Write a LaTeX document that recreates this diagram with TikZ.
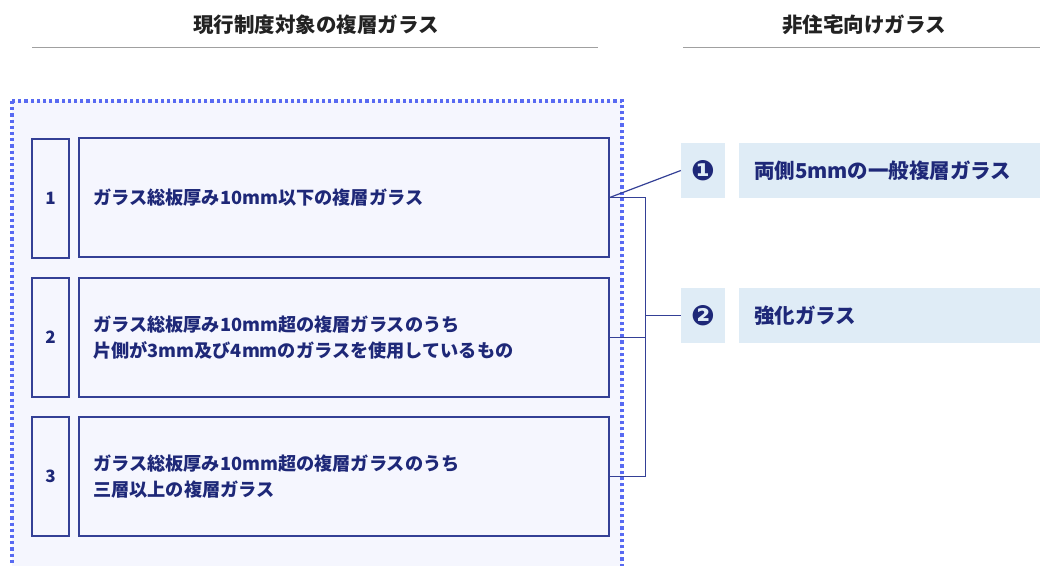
\documentclass[tikz,border=0pt]{standalone}
\usepackage{fontspec}
\newfontfamily\jpfont{Noto Sans CJK JP}
\newfontfamily\dvfont{DejaVu Sans}
\definecolor{navy}{RGB}{30,40,120}
\definecolor{boxline}{RGB}{52,64,150}
\definecolor{dotblue}{RGB}{88,106,242}
\definecolor{areafill}{RGB}{245,246,254}
\definecolor{lblfill}{RGB}{223,236,246}
\definecolor{rulegray}{RGB}{160,160,160}
\definecolor{hdrtext}{RGB}{34,34,34}
\begin{document}
\begin{tikzpicture}[x=1pt,y=-1pt,
  hdr/.style={font=\jpfont\bfseries\fontsize{20.5}{24}\selectfont, text=hdrtext, inner sep=0pt},
  rulestyle/.style={draw=rulegray, line width=1pt},
  area/.style={draw=dotblue, fill=areafill, line width=3.4pt, dash pattern=on 3.2pt off 3pt},
  numbox/.style={draw=boxline, line width=1.3pt, fill=areafill, minimum width=37pt, minimum height=119pt, inner sep=0pt, text=navy, font=\jpfont\bfseries\fontsize{17}{18}\selectfont},
  txtbox/.style={draw=boxline, line width=1.3pt, fill=areafill, text width=502pt, inner xsep=14pt, inner ysep=0pt, minimum height=119pt, align=left, text=navy, font=\jpfont\bfseries\fontsize{18.2}{26}\selectfont},
  circbox/.style={fill=lblfill, minimum width=44pt, minimum height=55pt, inner sep=0pt, text=navy, font=\dvfont\bfseries\fontsize{28}{30}\selectfont},
  lblbox/.style={fill=lblfill, text width=271pt, inner xsep=15pt, inner ysep=0pt, minimum height=55pt, align=left, text=navy, font=\jpfont\bfseries\fontsize{20.5}{24}\selectfont},
  conn/.style={draw=boxline, line width=1.2pt}
]
\useasboundingbox (0,0) rectangle (1040,565);
\clip (0,0) rectangle (1040,565);
\node[hdr] (h1) at (316,25) {現行制度対象の複層ガラス};
\node[hdr] (h2) at (864,25) {非住宅向けガラス};
\draw[rulestyle] (32,47) -- (598,47);
\draw[rulestyle] (683,47) -- (1040,47);
\draw[area] (12,101) rectangle (622,590);

\node[numbox] (n1) at (50.5,198.5) {1};
\node[numbox] (n2) at (50.5,337.5) {2};
\node[numbox] (n3) at (50.5,476.5) {3};
\node[txtbox] (t1) at (344,197.5) {ガラス総板厚み10mm以下の複層ガラス};
\node[txtbox] (t2) at (344,337.5) {ガラス総板厚み10mm超の複層ガラスのうち\\片側が3mm及び4mmのガラスを使用しているもの};
\node[txtbox] (t3) at (344,476.5) {ガラス総板厚み10mm超の複層ガラスのうち\\三層以上の複層ガラス};

\node[circbox] (c1) at (703,170.5) {❶};
\node[circbox] (c2) at (703,315.5) {❷};
\node[lblbox] (l1) at (889.5,170.5) {両側5mmの一般複層ガラス};
\node[lblbox] (l2) at (889.5,315.5) {強化ガラス};

\draw[conn] (t1.east) -- ++(36,0) coordinate (j1) -- (j1 |- t3.east) -- (t3.east);
\draw[conn] (t2.east) -- (j1 |- t2.east);
\draw[conn] (j1 |- c2.west) -- (c2.west);
\draw[conn] (t1.east) -- (c1.west);
\end{tikzpicture}
\end{document}
